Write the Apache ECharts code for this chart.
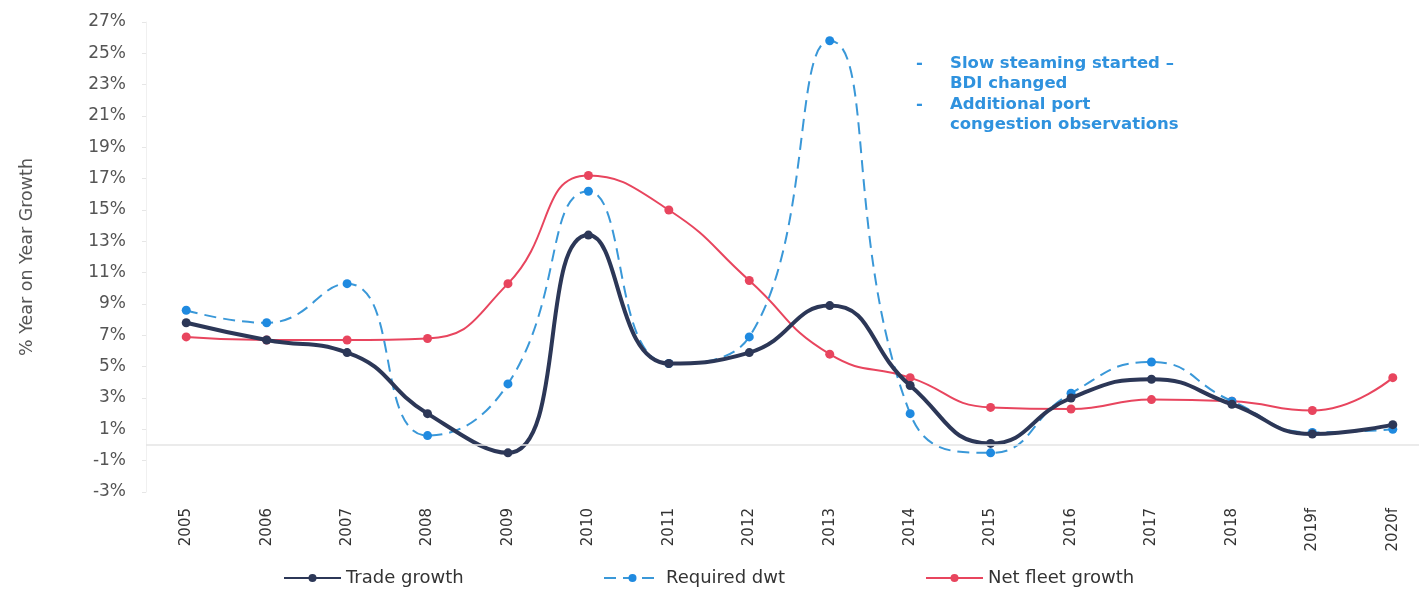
<!DOCTYPE html>
<html>
<head>
<meta charset="utf-8">
<script src="https://cdn.jsdelivr.net/npm/echarts@6/dist/echarts.min.js"></script>
<style>html,body{margin:0;padding:0;background:#fff;}#chart{width:1419px;height:589px;}</style>
</head>
<body>
<div id="chart"></div>
<script>
const years = ['2005','2006','2007','2008','2009','2010','2011','2012','2013','2014','2015','2016','2017','2018','2019f','2020f'];
const tradeGrowth = [7.8, 6.7, 5.9, 2.0, -0.5, 13.4, 5.2, 5.9, 8.9, 3.8, 0.1, 3.0, 4.2, 2.6, 0.7, 1.3];
const requiredDwt = [8.6, 7.8, 10.3, 0.6, 3.9, 16.2, 5.2, 6.9, 25.8, 2.0, -0.5, 3.3, 5.3, 2.8, 0.8, 1.0];
const netFleetGrowth = [6.9, 6.7, 6.7, 6.8, 10.3, 17.2, 15.0, 10.5, 5.8, 4.3, 2.4, 2.3, 2.9, 2.8, 2.2, 4.3];
const annotationLines = ['Slow steaming started \u2013', 'BDI changed', 'Additional port', 'congestion observations'];
const annotationBullets = [true, false, true, false];
const legendNames = ['Trade growth', 'Required dwt', 'Net fleet growth'];

const navy = '#2c3757';
const blue = '#1f8ae0';
const blueLine = '#3a98d8';
const red = '#e8455e';
const font = '"DejaVu Sans", "Liberation Sans", Arial, sans-serif';

const chart = echarts.init(document.getElementById('chart'));

const graphics = [];
annotationLines.forEach((t, i) => {
  const y = 55 + i * 20.4;
  graphics.push({type: 'text', left: 950, top: y, style: {text: t, fill: '#2f92de', font: 'bold 16.5px ' + font}});
  if (annotationBullets[i]) {
    graphics.push({type: 'text', left: 916, top: y, style: {text: '-', fill: '#2f92de', font: 'bold 16.5px ' + font}});
  }
});

const legendLeft = [278, 598, 920];
const legends = legendNames.map((n, i) => ({
  top: 564, left: legendLeft[i], itemWidth: 57, itemHeight: 10,
  textStyle: {fontSize: 18, color: '#333', fontFamily: font},
  data: [n]
}));

chart.setOption({
  animation: false,
  backgroundColor: '#fff',
  grid: {left: 146, right: -14, top: 22, bottom: 97, outerBoundsMode: 'none', containLabel: false},
  legend: legends,
  xAxis: {
    type: 'category', data: years, boundaryGap: true,
    axisLine: {show: false}, axisTick: {show: false},
    axisLabel: {rotate: 90, fontSize: 15, color: '#333', fontFamily: font, margin: 16}
  },
  yAxis: {
    type: 'value', min: -3, max: 27, interval: 2,
    name: '% Year on Year Growth', nameLocation: 'middle', nameGap: 110,
    nameTextStyle: {fontSize: 17.5, color: '#555', fontFamily: font},
    axisLine: {show: true, lineStyle: {color: '#f0f0f0'}},
    axisTick: {show: true, length: 4, lineStyle: {color: '#e6e6e6'}},
    splitLine: {show: false},
    axisLabel: {formatter: v => v + '%', fontSize: 17, color: '#555', fontFamily: font, margin: 20}
  },
  graphic: graphics,
  series: [
    {
      name: 'Net fleet growth', type: 'line', data: netFleetGrowth, smooth: 0.5,
      symbol: 'circle', symbolSize: 9, z: 2,
      lineStyle: {color: red, width: 2}, itemStyle: {color: red},
      markLine: {silent: true, symbol: 'none', label: {show: false},
        lineStyle: {color: '#e4e4e4', width: 1.5, type: 'solid'}, data: [{yAxis: 0}]}
    },
    {
      name: 'Required dwt', type: 'line', data: requiredDwt, smooth: 0.5,
      symbol: 'circle', symbolSize: 9, z: 3,
      lineStyle: {color: blueLine, width: 2, type: [12, 7]}, itemStyle: {color: blue}
    },
    {
      name: 'Trade growth', type: 'line', data: tradeGrowth, smooth: 0.5,
      symbol: 'circle', symbolSize: 9, z: 4,
      lineStyle: {color: navy, width: 4}, itemStyle: {color: navy}
    }
  ]
});
</script>
</body>
</html>
